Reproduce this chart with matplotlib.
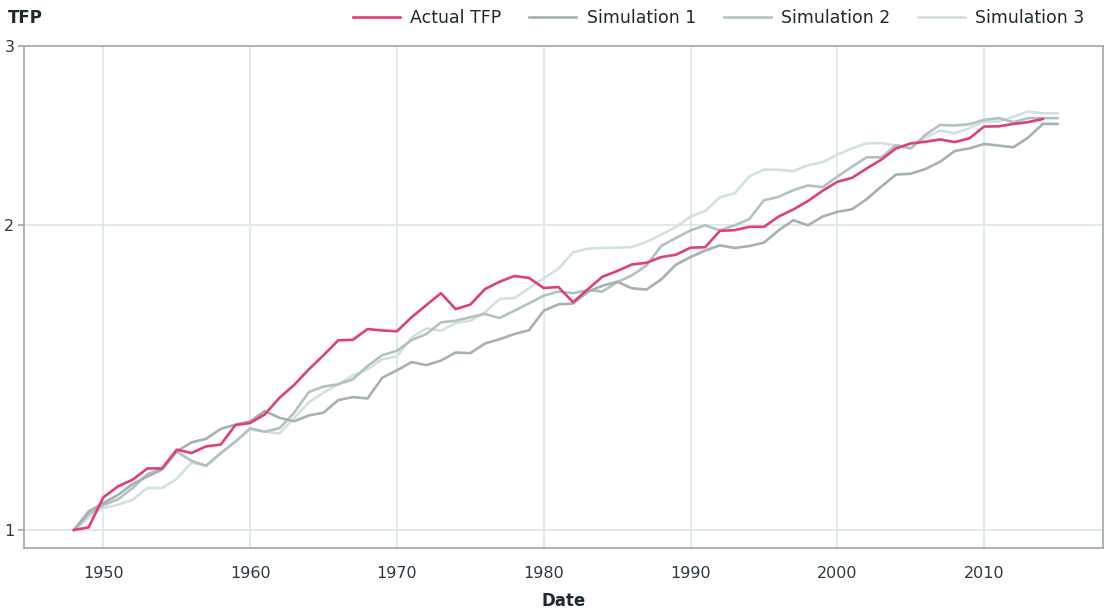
import matplotlib
matplotlib.use("Agg")
import matplotlib.pyplot as plt
from matplotlib.ticker import FixedLocator, NullLocator

plt.rcParams['font.family'] = ['DejaVu Sans']

years = list(range(1948, 2016))

actual_tfp = [1.00, 1.006, 1.077, 1.104, 1.121, 1.15, 1.15, 1.20, 1.191, 1.209,
              1.214, 1.269, 1.275, 1.30, 1.35, 1.39, 1.44, 1.487, 1.538, 1.54,
              1.578, 1.573, 1.57, 1.621, 1.666, 1.712, 1.651, 1.668, 1.728, 1.757,
              1.78, 1.772, 1.732, 1.736, 1.677, 1.727, 1.777, 1.80, 1.827, 1.834,
              1.858, 1.868, 1.898, 1.90, 1.972, 1.975, 1.99, 1.99, 2.037, 2.07,
              2.11, 2.16, 2.204, 2.224, 2.272, 2.318, 2.378, 2.405, 2.414, 2.427,
              2.412, 2.433, 2.499, 2.50, 2.514, 2.524, 2.542]

simulation_1 = [1.00, 1.043, 1.063, 1.083, 1.11, 1.129, 1.147, 1.195, 1.22, 1.23,
                1.258, 1.27, 1.28, 1.31, 1.29, 1.28, 1.297, 1.305, 1.343, 1.352,
                1.348, 1.413, 1.437, 1.464, 1.454, 1.469, 1.496, 1.494, 1.527, 1.542,
                1.56, 1.574, 1.645, 1.669, 1.672, 1.717, 1.741, 1.757, 1.731, 1.726,
                1.766, 1.826, 1.858, 1.886, 1.908, 1.897, 1.905, 1.92, 1.974, 2.02,
                1.997, 2.037, 2.059, 2.071, 2.119, 2.181, 2.241, 2.245, 2.269, 2.307,
                2.364, 2.378, 2.402, 2.393, 2.384, 2.437, 2.514, 2.514]

simulation_2 = [1.00, 1.036, 1.058, 1.072, 1.10, 1.135, 1.15, 1.195, 1.17, 1.157,
                1.19, 1.222, 1.26, 1.25, 1.26, 1.305, 1.368, 1.385, 1.392, 1.408,
                1.451, 1.487, 1.502, 1.539, 1.56, 1.602, 1.608, 1.621, 1.633, 1.618,
                1.645, 1.673, 1.702, 1.718, 1.712, 1.724, 1.718, 1.755, 1.782, 1.823,
                1.905, 1.94, 1.974, 1.997, 1.974, 1.997, 2.025, 2.114, 2.13, 2.163,
                2.186, 2.178, 2.23, 2.281, 2.33, 2.33, 2.396, 2.378, 2.452, 2.508,
                2.505, 2.512, 2.537, 2.547, 2.524, 2.547, 2.547, 2.547]

simulation_3 = [1.00, 1.028, 1.051, 1.059, 1.071, 1.10, 1.10, 1.123, 1.165, 1.157,
                1.192, 1.222, 1.256, 1.25, 1.245, 1.29, 1.336, 1.366, 1.392, 1.42,
                1.44, 1.473, 1.483, 1.548, 1.58, 1.572, 1.60, 1.608, 1.639, 1.69,
                1.693, 1.731, 1.771, 1.809, 1.878, 1.894, 1.897, 1.898, 1.901, 1.923,
                1.955, 1.989, 2.037, 2.063, 2.128, 2.147, 2.231, 2.266, 2.265, 2.258,
                2.289, 2.305, 2.344, 2.378, 2.405, 2.407, 2.393, 2.378, 2.437, 2.476,
                2.461, 2.489, 2.527, 2.527, 2.556, 2.585, 2.575, 2.575]

x_ticks = [1950, 1960, 1970, 1980, 1990, 2000, 2010]
y_ticks = [1, 2, 3]

TEXT = '#2b3a40'
SPINE = '#a3aeb0'
GRID = '#dde8e8'

fig = plt.figure(figsize=(11.08, 6.12), dpi=100)
ax = fig.add_axes([0.0217, 0.1046, 0.9738, 0.8202])

ax.plot(years, simulation_3, color='#d2e1e1', lw=1.9, label='Simulation 3', zorder=2)
ax.plot(years, simulation_2, color='#b1c2c2', lw=1.9, label='Simulation 2', zorder=3)
ax.plot(years, simulation_1, color='#a6b1b1', lw=1.9, label='Simulation 1', zorder=4)
ax.plot(years[:len(actual_tfp)], actual_tfp, color='#e03f7e', lw=1.9,
        label='Actual TFP', zorder=5)

ax.set_yscale('log')
ax.set_ylim(0.96, 3.0)
ax.set_xlim(1944.6, 2018.1)
ax.yaxis.set_major_locator(FixedLocator(y_ticks))
ax.yaxis.set_minor_locator(NullLocator())
ax.set_yticklabels([str(t) for t in y_ticks])
ax.set_xticks(x_ticks)
ax.set_xticklabels([str(t) for t in x_ticks])

ax.grid(True, color=GRID, lw=1.3, zorder=0)
ax.set_axisbelow(True)
for s in ax.spines.values():
    s.set_color(SPINE)
    s.set_linewidth(1.3)

ax.tick_params(axis='y', length=4, width=1.3, color=SPINE, labelsize=11.5,
               labelcolor=TEXT, pad=3)
ax.tick_params(axis='x', length=0, labelsize=11.5, labelcolor=TEXT, pad=13)

ax.set_xlabel('Date', fontsize=12, fontweight='bold', color='#1d2a30', labelpad=8)
fig.text(0.007, 0.97, 'TFP', fontsize=12, fontweight='bold', color='#1d2a30',
         ha='left', va='center')

handles, labels = ax.get_legend_handles_labels()
order = [3, 2, 1, 0]
fig.legend([handles[i] for i in order], [labels[i] for i in order],
           loc='center right', bbox_to_anchor=(0.993, 0.97), ncol=4,
           frameon=False, fontsize=12.5, handlelength=2.7, handletextpad=0.6,
           columnspacing=1.6, labelcolor='#1d2a30')

fig.savefig('out.png', dpi=100)
